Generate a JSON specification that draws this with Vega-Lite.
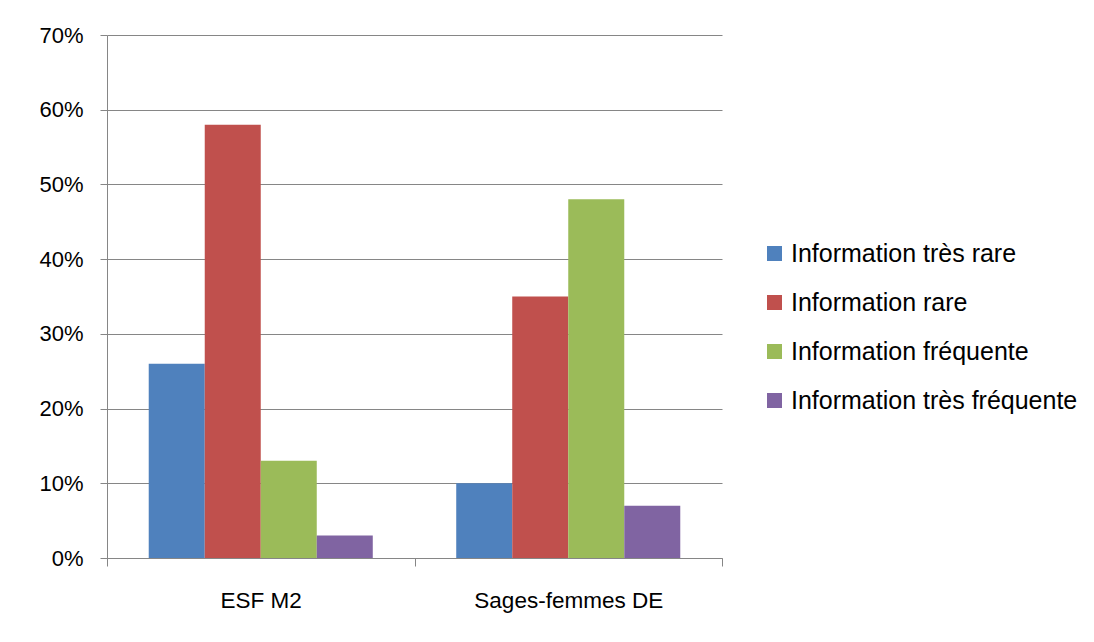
{
  "$schema": "https://vega.github.io/schema/vega-lite/v6.json",
  "width": 615,
  "height": 523,
  "autosize": {"type": "none"},
  "padding": {"left": 107, "top": 35, "right": 372, "bottom": 84},
  "background": "white",
  "config": {
    "view": {"stroke": null},
    "font": "Liberation Sans"
  },
  "data": {
    "values": [
      {"groupe": "ESF M2", "type": "Information très rare", "valeur": 0.26},
      {"groupe": "ESF M2", "type": "Information rare", "valeur": 0.58},
      {"groupe": "ESF M2", "type": "Information fréquente", "valeur": 0.13},
      {"groupe": "ESF M2", "type": "Information très fréquente", "valeur": 0.03},
      {"groupe": "Sages-femmes DE", "type": "Information très rare", "valeur": 0.10},
      {"groupe": "Sages-femmes DE", "type": "Information rare", "valeur": 0.35},
      {"groupe": "Sages-femmes DE", "type": "Information fréquente", "valeur": 0.48},
      {"groupe": "Sages-femmes DE", "type": "Information très fréquente", "valeur": 0.07}
    ]
  },
  "mark": {"type": "bar"},
  "encoding": {
    "x": {
      "field": "groupe",
      "type": "nominal",
      "sort": ["ESF M2", "Sages-femmes DE"],
      "scale": {"paddingInner": 0, "paddingOuter": 0},
      "axis": {
        "title": null,
        "labelAngle": 0,
        "labelFontSize": 22.5,
        "labelLimit": 400,
        "labelColor": "#000000",
        "labelPadding": 23,
        "tickBand": "extent",
        "tickSize": 8,
        "tickColor": "#868686",
        "domainColor": "#868686",
        "grid": false
      }
    },
    "xOffset": {
      "field": "type",
      "type": "nominal",
      "sort": ["Information très rare", "Information rare", "Information fréquente", "Information très fréquente"],
      "scale": {"paddingInner": 0, "paddingOuter": 0.745}
    },
    "y": {
      "field": "valeur",
      "type": "quantitative",
      "scale": {"domain": [0, 0.7], "nice": false},
      "axis": {
        "title": null,
        "values": [0, 0.1, 0.2, 0.3, 0.4, 0.5, 0.6, 0.7],
        "format": ".0%",
        "labelFontSize": 22,
        "labelColor": "#000000",
        "labelPadding": 17,
        "tickSize": 7,
        "tickColor": "#868686",
        "domainColor": "#868686",
        "grid": true,
        "gridColor": "#868686",
        "gridOpacity": 1
      }
    },
    "color": {
      "field": "type",
      "type": "nominal",
      "sort": ["Information très rare", "Information rare", "Information fréquente", "Information très fréquente"],
      "scale": {
        "domain": ["Information très rare", "Information rare", "Information fréquente", "Information très fréquente"],
        "range": ["#4F81BD", "#C0504D", "#9BBB59", "#8064A2"]
      },
      "legend": {
        "title": null,
        "orient": "none",
        "legendX": 655,
        "legendY": 206,
        "symbolType": "square",
        "symbolSize": 225,
        "symbolStrokeWidth": 0,
        "labelFontSize": 25,
        "labelColor": "#000000",
        "labelLimit": 400,
        "labelOffset": 4,
        "rowPadding": 23
      }
    }
  }
}
